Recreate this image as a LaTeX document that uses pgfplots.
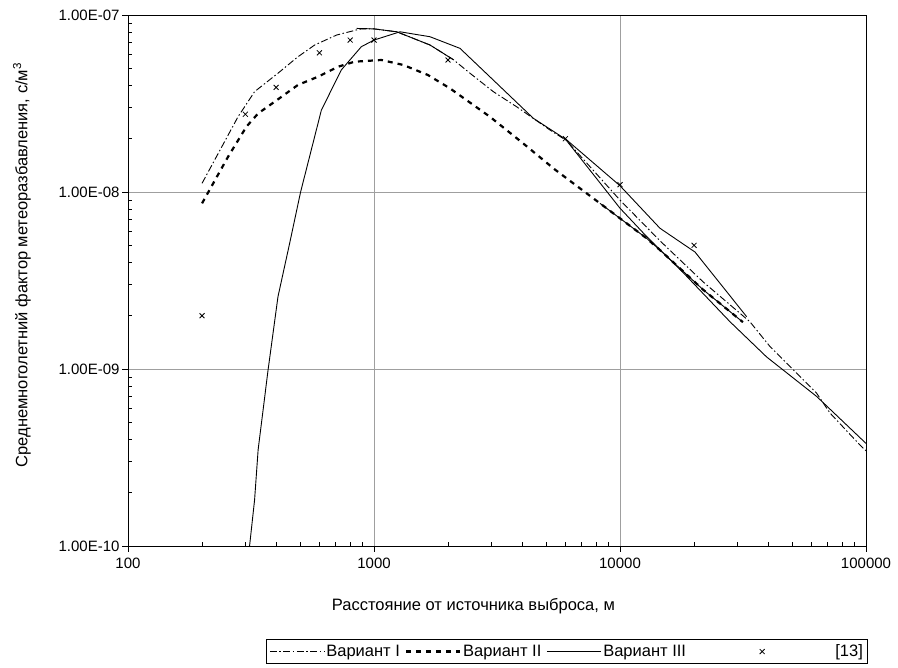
\documentclass[border=0pt]{standalone}
\usepackage{pgfplots}
\pgfplotsset{compat=1.18}
\usepackage{fontspec}
\setmainfont{Liberation Sans}
\pgfplotsset{
    wide mark legend/.style={legend image code/.code={%
        \path[draw=none] (0cm,0cm) -- (5cm,0cm);
        \draw[##1] plot coordinates {(2.5cm,0cm)};}},
}

\begin{document}
\begin{tikzpicture}
\path[use as bounding box] (0,0) rectangle (898pt,668pt);
\begin{loglogaxis}[
    at={(128pt,122pt)}, anchor=south west,
    width=738pt, height=531pt, scale only axis,
    xmin=100, xmax=100000, ymin=1e-10, ymax=1e-7,
    xtick={100,1000,10000,100000},
    xticklabels={100,1000,10000,100000},
    ytick={1e-10,1e-9,1e-8,1e-7},
    yticklabels={1.00E-10,1.00E-09,1.00E-08,1.00E-07},
    minor xtick={200,300,400,500,600,700,800,900,2000,3000,4000,5000,6000,7000,8000,9000,20000,30000,40000,50000,60000,70000,80000,90000},
    minor ytick={2e-10,3e-10,4e-10,5e-10,6e-10,7e-10,8e-10,9e-10,2e-9,3e-9,4e-9,5e-9,6e-9,7e-9,8e-9,9e-9,2e-8,3e-8,4e-8,5e-8,6e-8,7e-8,8e-8,9e-8},
    tick pos=left,
    tick align=inside,
    major tick length=-6pt,
    minor tick length=4pt,
    tick style={black, line width=0.8pt},
    grid=major,
    major grid style={gray!75, line width=0.8pt},
    axis line style={line width=1pt},
    ticklabel style={font=\fontsize{15}{18}\selectfont},
    xticklabel style={yshift=-8pt},
    yticklabel style={xshift=-5pt},
    xlabel={Расстояние от источника выброса, м},
    ylabel={Среднемноголетний фактор метеоразбавления, с/м\textsuperscript{3}},
    label style={font=\fontsize{16.5}{19}\selectfont},
    xlabel style={at={(axis description cs:0.468,-0.113)}, anchor=center},
    ylabel style={at={(axis description cs:-0.1436,0.529)}, anchor=center},
    legend columns=4,
    legend style={at={(axis description cs:0.595,-0.1987)}, anchor=center,
        draw=black, line width=0.8pt, font=\fontsize{16.5}{19}\selectfont,
        inner sep=3pt,
        /tikz/every even column/.append style={column sep=3pt}},
    legend image code/.code={\draw[#1] (0cm,0cm) -- (1.9cm,0cm);},
]
% Вариант I
\addplot[black, line width=0.9pt, dash pattern=on 7pt off 2.5pt on 1.5pt off 2.5pt]
coordinates {
    (200,1.12e-8) (280,2.66e-8) (327,3.69e-8) (407,4.69e-8) (490,5.8e-8)
    (574,6.77e-8) (705,7.71e-8) (877,8.33e-8) (1000,8.35e-8) (1237,8.04e-8)
    (1689,6.77e-8) (2100,5.6e-8) (2455,4.69e-8) (3055,3.69e-8) (3802,3.03e-8)
    (5193,2.24e-8) (6070,1.95e-8) (10000,9.0e-9) (14540,5.3e-9) (21810,3.1e-9)
    (33730,1.85e-9) (40700,1.34e-9) (52270,9.46e-10) (63000,7.3e-10)
    (71400,5.64e-10) (94500,3.72e-10) (100000,3.45e-10)
};
% Вариант II
\addplot[black, line width=2.2pt, dash pattern=on 5pt off 5pt]
coordinates {
    (200,8.63e-9) (255,1.58e-8) (303,2.34e-8) (338,2.78e-8) (395,3.24e-8)
    (491,4.03e-8) (592,4.48e-8) (714,5.1e-8) (834,5.45e-8) (1071,5.57e-8)
    (1316,5.22e-8) (1658,4.58e-8) (2037,3.85e-8) (2962,2.66e-8) (4045,1.88e-8)
    (5400,1.35e-8) (8293,8.63e-9) (12840,5.47e-9) (14540,4.7e-9) (21810,2.8e-9)
    (31600,1.84e-9)
};
% Вариант III
\addplot[black, line width=0.9pt]
coordinates {
    (305,7e-11) (312,1e-10) (327,1.82e-10) (338,3.49e-10) (371,9.87e-10)
    (407,2.56e-9) (454,5.13e-9) (503,1.0e-8) (556,1.73e-8) (611,2.9e-8)
    (736,4.89e-8) (888,6.62e-8) (1000,7.22e-8) (1276,8.04e-8) (1689,7.54e-8)
    (2237,6.48e-8) (3055,4.29e-8) (4442,2.61e-8) (6070,1.97e-8) (10000,1.085e-8)
    (14540,6.24e-9) (20180,4.58e-9) (32730,1.975e-9)
};
% [13]
\addplot[black, only marks, mark=x, mark size=3.5pt, line width=0.8pt, wide mark legend]
coordinates {
    (200,2e-9) (300,2.75e-8) (400,3.9e-8) (600,6.12e-8) (800,7.22e-8)
    (1000,7.22e-8) (2000,5.57e-8) (6000,2.0e-8) (10000,1.1e-8) (20000,5.0e-9)
};
% unlabelled solid traces
\addplot[black, line width=0.9pt, forget plot]
coordinates {
    (850,8.4e-8) (1000,8.35e-8) (1237,8.04e-8) (1689,6.77e-8) (2100,5.6e-8)
};
\addplot[black, line width=0.9pt, forget plot]
coordinates {
    (6070,1.95e-8) (10000,8.1e-9) (12840,5.6e-9) (18080,3.5e-9) (28000,1.85e-9)
    (39450,1.17e-9) (63000,7.0e-10) (100000,3.8e-10)
};
\addplot[black, line width=0.9pt, forget plot]
coordinates {
    (8293,8.63e-9) (12840,5.47e-9) (14540,4.7e-9) (21810,2.8e-9) (31600,1.84e-9)
};
\legend{Вариант I, Вариант II, Вариант III, {{}[13]}}
\end{loglogaxis}
\end{tikzpicture}
\end{document}
